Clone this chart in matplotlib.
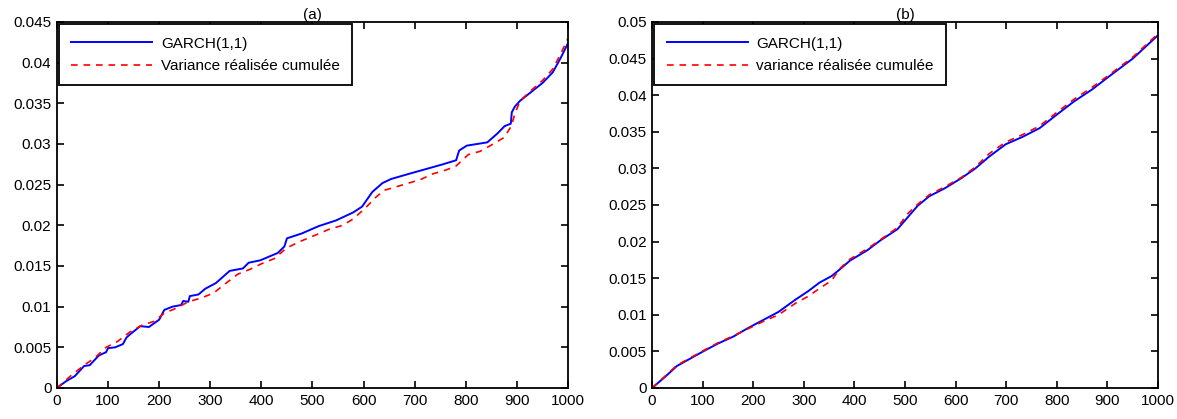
import numpy as np
import matplotlib
matplotlib.use("Agg")
import matplotlib.pyplot as plt
from matplotlib.ticker import FuncFormatter

plt.rcParams['font.family'] = ['Liberation Sans', 'DejaVu Sans']

# panel (a): values
xa_garch = [0, 17, 35, 53, 64, 82, 96, 100, 114, 129, 136, 143, 163, 180, 200, 210, 226, 243, 247,
            257, 260, 277, 290, 311, 338, 364, 375, 398, 432, 445, 450, 479, 512, 546, 580, 597,
            617, 637, 654, 687, 721, 755, 781, 787, 802, 842, 862, 876, 888, 890, 896, 906, 930,
            950, 970, 985, 1000]
ya_garch = [0, 0.0008, 0.00146, 0.0027, 0.0028, 0.0040, 0.0044, 0.0049, 0.0050, 0.0054, 0.0062,
            0.0066, 0.0076, 0.0075, 0.0084, 0.0096, 0.0100, 0.0102, 0.0107, 0.0106, 0.0113, 0.0115,
            0.0122, 0.0129, 0.0144, 0.0147, 0.0154, 0.0157, 0.0166, 0.0174, 0.0184, 0.0190, 0.0199,
            0.0206, 0.0216, 0.0223, 0.0241, 0.0252, 0.0257, 0.0263, 0.0269, 0.0275, 0.0280, 0.0292,
            0.0298, 0.0302, 0.0313, 0.0322, 0.0325, 0.0339, 0.0346, 0.0353, 0.0365, 0.0375, 0.0388,
            0.0405, 0.0424]

xa_rv = [0, 27, 53, 74, 96, 118, 143, 166, 190, 210, 233, 257, 284, 307, 331, 354, 378, 401, 425,
         449, 475, 506, 532, 559, 580, 603, 623, 640, 667, 694, 714, 734, 761, 781, 805, 828, 848,
         875, 889, 896, 906, 930, 950, 970, 985, 1000]
ya_rv = [0, 0.0015, 0.0028, 0.0037, 0.0050, 0.0057, 0.0069, 0.0077, 0.0082, 0.0092, 0.0098,
         0.0106, 0.0111, 0.0117, 0.0129, 0.0140, 0.0146, 0.0153, 0.0159, 0.0172, 0.0180, 0.0188,
         0.0195, 0.0200, 0.0208, 0.0221, 0.0234, 0.0243, 0.0248, 0.0253, 0.0257, 0.0263, 0.0268,
         0.0273, 0.0287, 0.0291, 0.0298, 0.0308, 0.0322, 0.0337, 0.0353, 0.0367, 0.0378, 0.0392,
         0.0410, 0.0430]

# panel (b)
xb = [0, 27, 49, 75, 101, 131, 160, 190, 220, 250, 284, 308, 331, 355, 371, 391, 425, 452, 485,
      505, 525, 548, 579, 612, 639, 666, 699, 732, 766, 799, 833, 870, 900, 950, 1000]
yb_garch = [0, 0.0016, 0.0030, 0.0040, 0.0050, 0.0061, 0.0070, 0.0082, 0.0093, 0.0104, 0.0121,
            0.0132, 0.0144, 0.0153, 0.0162, 0.0174, 0.0188, 0.0202, 0.0217, 0.0233, 0.0249,
            0.0262, 0.0273, 0.0287, 0.0300, 0.0316, 0.0333, 0.0343, 0.0355, 0.0373, 0.0391,
            0.0408, 0.0424, 0.0450, 0.0482]
yb_rv = [0, 0.0017, 0.0031, 0.0041, 0.0051, 0.0062, 0.0071, 0.0081, 0.0091, 0.0100, 0.0116,
         0.0125, 0.0136, 0.0147, 0.0163, 0.0176, 0.0190, 0.0203, 0.0219, 0.0238, 0.0251,
         0.0264, 0.0275, 0.0288, 0.0302, 0.0320, 0.0336, 0.0346, 0.0358, 0.0376, 0.0394,
         0.0411, 0.0426, 0.0452, 0.0484]

fig = plt.figure(figsize=(11.77, 4.19), dpi=100)
ax1 = fig.add_axes([0.0484, 0.074, 0.4342, 0.8735])
ax2 = fig.add_axes([0.5540, 0.074, 0.4299, 0.8735])

panels = [
    (ax1, xa_garch, ya_garch, xa_rv, ya_rv, 0.045, 'Variance réalisée cumulée', '(a)'),
    (ax2, xb, yb_garch, xb, yb_rv, 0.05, 'variance réalisée cumulée', '(b)'),
]

for ax, xg, yg, xr, yr, ymax, lab, title in panels:
    ax.plot(xg, yg, color='#0000ff', lw=1.4, label='GARCH(1,1)')
    ax.plot(xr, yr, color='#ff0000', lw=1.2, ls=(0, (4, 3.5)), label=lab)
    ax.set_xlim(0, 1000)
    ax.set_ylim(0, ymax)
    ax.set_xticks(np.arange(0, 1001, 100))
    ax.set_yticks(np.arange(0, ymax + 1e-9, 0.005))
    ax.yaxis.set_major_formatter(FuncFormatter(lambda v, p: '%g' % round(v, 4)))
    ax.tick_params(direction='in', top=True, right=True, length=5, width=1.2,
                   labelsize=11, pad=4)
    for s in ax.spines.values():
        s.set_linewidth(1.3)
    ax.set_title(title, fontsize=11, pad=2)
    leg = ax.legend(loc='upper left', fontsize=11, handlelength=5.3, fancybox=False,
                    borderaxespad=0.15, framealpha=1, borderpad=0.8, labelspacing=0.55,
                    handletextpad=0.55)
    leg.get_frame().set_edgecolor('black')
    leg.get_frame().set_linewidth(1.3)

fig.savefig('out.png', dpi=100)
